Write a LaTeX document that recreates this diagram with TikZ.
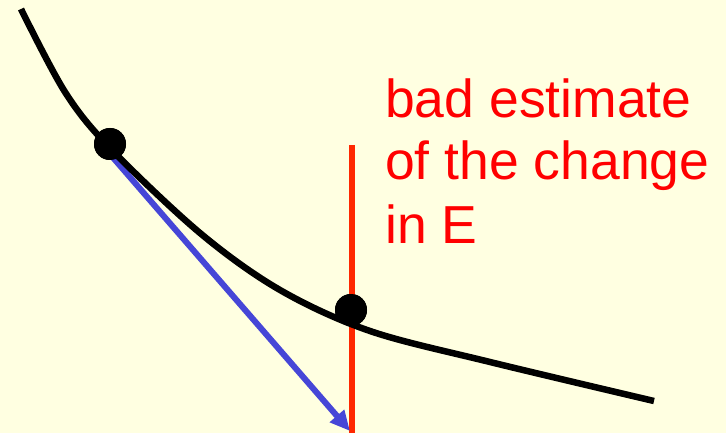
\documentclass[tikz,border=0pt]{standalone}
\usepackage{fontspec}
\setmainfont{Liberation Sans}
\usetikzlibrary{arrows.meta}
\definecolor{bg}{RGB}{255,255,225}
\definecolor{redline}{RGB}{255,40,0}
\definecolor{bluearrow}{RGB}{70,70,215}
\definecolor{txtred}{RGB}{255,0,0}
\tikzset{
  curveline/.style={line width=6.5pt, black},
  dotnode/.style={circle, fill=black, minimum size=32pt, inner sep=0pt},
  redmark/.style={line width=6pt, redline},
  bluevec/.style={line width=6pt, bluearrow, -{Triangle[length=20pt,width=18pt]}},
  labeltext/.style={text=txtred, font=\fontsize{53.5}{63}\selectfont, align=left, inner sep=0pt}
}
\begin{document}
\begin{tikzpicture}[x=1pt,y=-1pt]
\fill[bg] (0,0) rectangle (726,433);
\useasboundingbox (0,0) rectangle (726,433);
\coordinate (rtop) at (352,145);
\coordinate (rbot) at (352,433);
\coordinate (tail) at (109,153);
\coordinate (tip) at (350,431);
\node[dotnode] (p1) at (110,144) {};
\node[dotnode] (p2) at (351,310) {};
\draw[redmark] (rtop) -- (rbot);
\draw[bluevec] (tail) -- (tip);
\draw[curveline] plot[smooth, tension=0.55] coordinates {(21,9) (65,92) (110,148) (200,233) (280,290) (370,331) (490,362) (654,401)};
\node[dotnode] at (p1) {};
\node[dotnode] at (p2) {};
\node[labeltext, anchor=base west] (lbl) at (385,243) {bad estimate\\of the change\\in E};
\end{tikzpicture}
\end{document}
